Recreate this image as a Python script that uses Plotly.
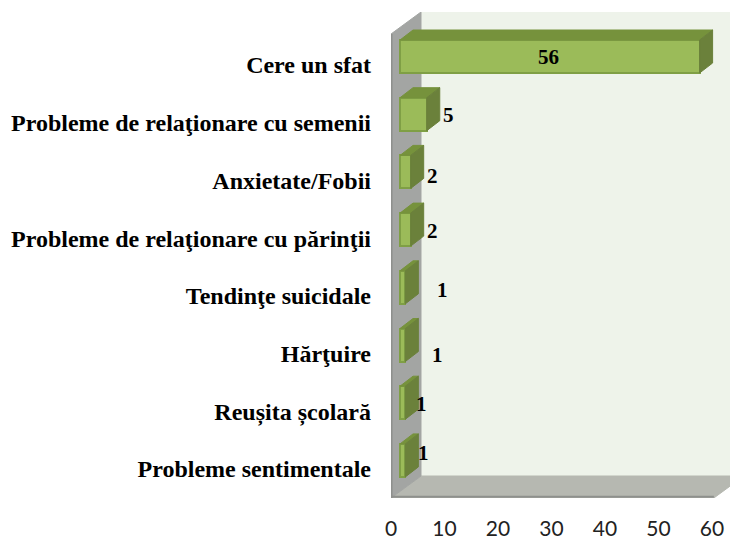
import plotly.graph_objects as go

categories = ["Cere un sfat", "Probleme de relaţionare cu semenii", "Anxietate/Fobii",
              "Probleme de relaţionare cu părinţii", "Tendinţe suicidale", "Hărţuire",
              "Reușita școlară", "Probleme sentimentale"]
values = [56, 5, 2, 2, 1, 1, 1, 1]
x_ticks = [0, 10, 20, 30, 40, 50, 60]
# label nudges, as placed by hand in the original
label_dx = [-1, 9, 9, 9, 24, 19, 3, 5]
label_dy = [-8, -8, -4, -7, -6, 1, -7, -16]

W, H = 730, 539
L, T, B = 391, 12, 498
PX = 5.35   # px per x unit
PY = 57.7   # px per category
Y0 = 65     # px of the first category label
xr = (W - L) / PX
yb, yt = (B - Y0) / PY, (T - Y0) / PY

GREEN, TOP, SIDE, EDGE = "#9bbb59", "#76923c", "#6b813b", "#7f9f45"
bar_x0 = 9 / PX
dep_x, dep_y = 13 / PX, 10 / PY
bar_up, bar_h = 8.5 / PY, 33 / PY
wall_x, wall_y = 30 / PX, 22 / PY
x60 = 60.35

fig = go.Figure()
pos = list(range(len(categories)))

# front faces
fig.add_trace(go.Bar(y=pos, x=values, base=bar_x0, orientation="h",
                     width=bar_h, offset=-bar_up - bar_h / 2,
                     marker=dict(color=GREEN, line=dict(color=EDGE, width=2)),
                     hoverinfo="skip", showlegend=False))

# top and side faces
for p, v in zip(pos, values):
    x1 = bar_x0 + v
    yf = p - bar_up - bar_h / 2
    fig.add_trace(go.Scatter(
        x=[bar_x0, x1, x1 + dep_x, bar_x0 + dep_x, bar_x0],
        y=[yf, yf, yf - dep_y, yf - dep_y, yf],
        mode="lines", fill="toself", fillcolor=TOP, line=dict(color=TOP, width=1),
        hoverinfo="skip", showlegend=False))
    fig.add_trace(go.Scatter(
        x=[x1, x1 + dep_x, x1 + dep_x, x1, x1],
        y=[yf, yf - dep_y, yf + bar_h - dep_y, yf + bar_h, yf],
        mode="lines", fill="toself", fillcolor=SIDE, line=dict(color=SIDE, width=1),
        hoverinfo="skip", showlegend=False))

def poly(pts, color, line=None):
    path = "M" + " L".join(f"{a},{b}" for a, b in pts) + " Z"
    return dict(type="path", path=path, xref="x", yref="y", fillcolor=color, layer="below",
                line=dict(color=line or color, width=1))

shapes = [
    poly([(wall_x, yt), (xr, yt), (xr, yb - wall_y), (wall_x, yb - wall_y)], "#eef3ea"),
    poly([(0, yb), (x60, yb), (x60 + wall_x, yb - wall_y), (wall_x, yb - wall_y)], "#b6b8b1"),
    poly([(0, yt + wall_y), (wall_x, yt), (wall_x, yb - wall_y), (0, yb)], "#a3a5a3"),
    dict(type="line", xref="x", yref="y", x0=0, x1=x60, y0=yb - 0.02, y1=yb - 0.02,
         line=dict(color="#8e908d", width=2), layer="below"),
    dict(type="line", xref="x", yref="y", x0=0.1, x1=0.1, y0=yb, y1=yt + wall_y,
         line=dict(color="#8e908d", width=2), layer="below"),
]

annots = [dict(x=bar_x0 + v / 2 if i == 0 else bar_x0 + v + dep_x, y=p, xref="x", yref="y", text=f"<b>{v}</b>",
               showarrow=False, xshift=dx, yshift=-dy,
               font=dict(family="Liberation Serif", size=21, color="#000000"))
          for i, (p, v, dx, dy) in enumerate(zip(pos, values, label_dx, label_dy))]

fig.update_layout(
    width=W, height=H, autosize=False, bargap=0,
    margin=dict(l=L, r=0, t=T, b=H - B, pad=0, autoexpand=False),
    paper_bgcolor="#ffffff", plot_bgcolor="#ffffff",
    shapes=shapes, annotations=annots,
    xaxis=dict(range=[0, xr], tickvals=x_ticks, showgrid=False, zeroline=False, showline=False,
               ticks="", ticklabelstandoff=16, automargin=False,
               tickfont=dict(family="Lato", size=21, color="#222222")),
    yaxis=dict(range=[yb, yt], tickvals=pos, ticktext=[f"<b>{c}</b>" for c in categories],
               showgrid=False, zeroline=False, showline=False, ticks="", ticklabelstandoff=19,
               automargin=False,
               tickfont=dict(family="Liberation Serif", size=24, color="#000000")),
)
fig.write_html("out.html", post_script="document.body.style.margin='0';",
               config={"displayModeBar": False})
